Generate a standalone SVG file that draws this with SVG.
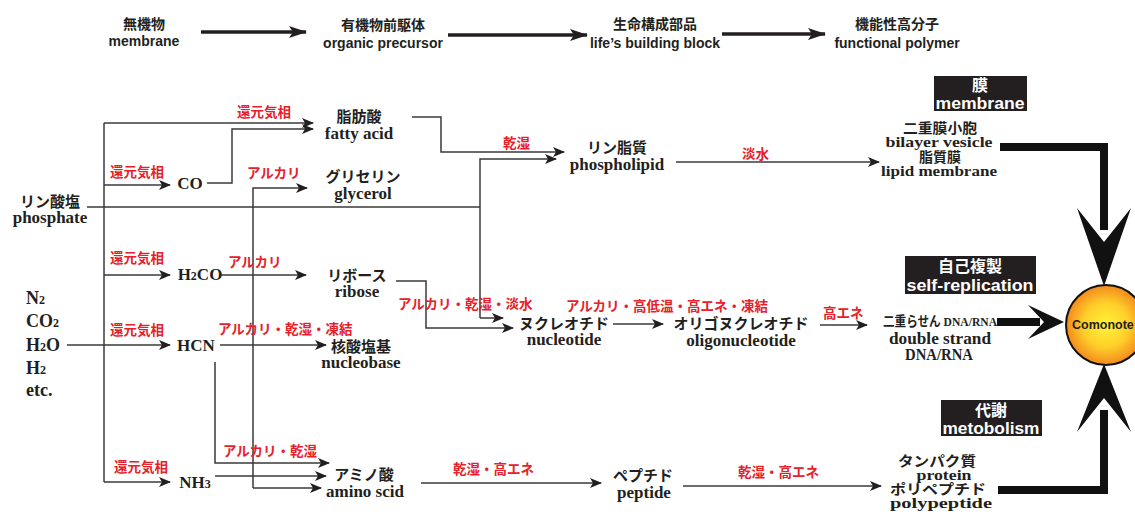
<svg xmlns="http://www.w3.org/2000/svg" width="1135" height="515" viewBox="0 0 1135 515">
<defs>
<style>
.hd{font-family:"Liberation Sans","Noto Sans CJK JP",sans-serif;font-weight:bold;font-size:14px;fill:#231f20;text-anchor:middle}
.nd{font-family:"Liberation Serif","Noto Sans CJK JP",serif;font-weight:bold;font-size:15px;fill:#231f20;text-anchor:middle}
.ne{font-family:"Liberation Serif","Noto Sans CJK JP",serif;font-weight:bold;font-size:17px;fill:#231f20;text-anchor:middle}
.st{font-family:"Liberation Serif","Noto Sans CJK JP",serif;font-weight:bold;font-size:14px;fill:#231f20;text-anchor:middle}
.gs{font-family:"Liberation Serif",serif;font-weight:bold;font-size:18px;fill:#231f20}
.lb{font-family:"Liberation Serif","Noto Sans CJK JP",serif;font-weight:bold;font-size:13.5px;fill:#e8202a}
.bx{font-family:"Liberation Sans","Noto Sans CJK JP",sans-serif;font-weight:bold;font-size:16px;fill:#fff;text-anchor:middle}
.ln{fill:none;stroke:#3a3a3a;stroke-width:1.5}
.hl{fill:none;stroke:#231f20;stroke-width:3.5}
.tk{fill:none;stroke:#111;stroke-width:8}
.ah{fill:#111}
.sb{font-size:12px}
</style>
<marker id="a" viewBox="0 0 12 10" refX="11" refY="5" markerWidth="12" markerHeight="10" markerUnits="userSpaceOnUse" orient="auto">
<path d="M0,0 L12,5 L0,10 L3,5 Z" fill="#231f20"/>
</marker>
<marker id="ha" viewBox="0 0 18 12" refX="17" refY="6" markerWidth="18" markerHeight="12" markerUnits="userSpaceOnUse" orient="auto">
<path d="M0,0 L18,6 L0,12 L4,6 Z" fill="#231f20"/>
</marker>
<radialGradient id="g" cx="0.5" cy="0.5" r="0.5">
<stop offset="0" stop-color="#fff23a"/>
<stop offset="0.55" stop-color="#ffd02a"/>
<stop offset="1" stop-color="#f28a1c"/>
</radialGradient>
</defs>

<g id="header">
<text class="hd" x="144" y="29">無機物</text>
<text class="hd" x="144" y="46">membrane</text>
<text class="hd" x="383" y="30">有機物前駆体</text>
<text class="hd" x="383" y="48">organic precursor</text>
<text class="hd" x="655" y="29">生命構成部品</text>
<text class="hd" x="655" y="48">life’s  building block</text>
<text class="hd" x="897" y="29">機能性高分子</text>
<text class="hd" x="897" y="48">functional polymer</text>
</g>

<g id="connectors">
<path class="hl" d="M201,32 H306" marker-end="url(#ha)"/>
<path class="hl" d="M448,35 H587" marker-end="url(#ha)"/>
<path class="hl" d="M722,34 H825" marker-end="url(#ha)"/>

<path class="ln" d="M104,123 V482"/>
<path class="ln" d="M104,123 H313" marker-end="url(#a)"/>
<path class="ln" d="M104,185 H170" marker-end="url(#a)"/>
<path class="ln" d="M104,275 H170" marker-end="url(#a)"/>
<path class="ln" d="M67,345 H170" marker-end="url(#a)"/>
<path class="ln" d="M104,482 H170" marker-end="url(#a)"/>

<path class="ln" d="M207,183 H232 V129 H313" marker-end="url(#a)"/>
<path class="ln" d="M253,488 V188 H307" marker-end="url(#a)"/>
<path class="ln" d="M253,488 H321" marker-end="url(#a)"/>
<path class="ln" d="M221,275 H306" marker-end="url(#a)"/>
<path class="ln" d="M220,345 H326" marker-end="url(#a)"/>
<path class="ln" d="M215,362 V463 H329" marker-end="url(#a)"/>
<path class="ln" d="M215,476 H326" marker-end="url(#a)"/>
<path class="ln" d="M87,207 H480"/>
<path class="ln" d="M480,318 V159 H556" marker-end="url(#a)"/>
<path class="ln" d="M480,318 H503" marker-end="url(#a)"/>
<path class="ln" d="M412,117 H441 V152 H564" marker-end="url(#a)"/>
<path class="ln" d="M396,281 H426 V328 H513" marker-end="url(#a)"/>
<path class="ln" d="M676,162 H879" marker-end="url(#a)"/>
<path class="ln" d="M613,324 H663" marker-end="url(#a)"/>
<path class="ln" d="M820,325 H867" marker-end="url(#a)"/>
<path class="ln" d="M421,483 H601" marker-end="url(#a)"/>
<path class="ln" d="M683,486 H881" marker-end="url(#a)"/>

<path class="tk" d="M1000,147 H1104 V230"/>
<path class="ah" d="M1077,208 L1104,242 L1131,208 L1104,286 Z"/>
<path class="tk" d="M998,490 H1104 V410"/>
<path class="ah" d="M1077,432 L1104,398 L1131,432 L1104,364 Z"/>
<path class="tk" d="M997,322 H1040"/>
<path class="ah" d="M1028,305 L1044,322 L1028,339 L1064,322 Z"/>
</g>

<g id="labels">
<text class="lb" x="237" y="117">還元気相</text>
<text class="lb" x="110" y="177">還元気相</text>
<text class="lb" x="110" y="263">還元気相</text>
<text class="lb" x="110" y="335">還元気相</text>
<text class="lb" x="114" y="472">還元気相</text>
<text class="lb" x="247" y="178">アルカリ</text>
<text class="lb" x="228" y="267">アルカリ</text>
<text class="lb" x="218" y="334">アルカリ・乾湿・凍結</text>
<text class="lb" x="223" y="456">アルカリ・乾湿</text>
<text class="lb" x="503" y="148">乾湿</text>
<text class="lb" x="742" y="159">淡水</text>
<text class="lb" x="398" y="309">アルカリ・乾湿・淡水</text>
<text class="lb" x="566" y="311">アルカリ・高低温・高エネ・凍結</text>
<text class="lb" x="823" y="318">高エネ</text>
<text class="lb" x="453" y="474">乾湿・高エネ</text>
<text class="lb" x="738" y="477">乾湿・高エネ</text>
</g>

<g id="n-phosphate"><text class="nd" x="50" y="207">リン酸塩</text><text class="ne" x="50" y="223">phosphate</text></g>
<g id="n-gases">
<text class="gs" x="26" y="304">N<tspan class="sb">2</tspan></text>
<text class="gs" x="26" y="327">CO<tspan class="sb">2</tspan></text>
<text class="gs" x="26" y="351">H<tspan class="sb">2</tspan>O</text>
<text class="gs" x="26" y="374">H<tspan class="sb">2</tspan></text>
<text class="gs" x="26" y="396">etc.</text>
</g>
<g id="n-co"><text class="ne" x="190" y="189">CO</text></g>
<g id="n-h2co"><text class="ne" x="200" y="280">H<tspan class="sb">2</tspan>CO</text></g>
<g id="n-hcn"><text class="ne" x="196" y="351">HCN</text></g>
<g id="n-nh3"><text class="ne" x="195" y="488">NH<tspan class="sb">3</tspan></text></g>
<g id="n-fatty"><text class="nd" x="359" y="122">脂肪酸</text><text class="ne" x="359" y="139">fatty acid</text></g>
<g id="n-glycerol"><text class="nd" x="363" y="182">グリセリン</text><text class="ne" x="363" y="199">glycerol</text></g>
<g id="n-ribose"><text class="nd" x="357" y="281">リボース</text><text class="ne" x="357" y="297">ribose</text></g>
<g id="n-nucleobase"><text class="nd" x="361" y="352">核酸塩基</text><text class="ne" x="361" y="368">nucleobase</text></g>
<g id="n-amino"><text class="nd" x="364" y="480">アミノ酸</text><text class="ne" x="365" y="497">amino scid</text></g>
<g id="n-phospholipid"><text class="nd" x="617" y="153">リン脂質</text><text class="ne" x="617" y="170">phospholipid</text></g>
<g id="n-nucleotide"><text class="nd" x="564" y="329">ヌクレオチド</text><text class="ne" x="564" y="345">nucleotide</text></g>
<g id="n-peptide"><text class="nd" x="643" y="481">ペプチド</text><text class="ne" x="644" y="498">peptide</text></g>
<g id="n-oligo"><text class="nd" x="741" y="329">オリゴヌクレオチド</text><text class="ne" x="741" y="346">oligonucleotide</text></g>
<g id="n-bilayer">
<text class="st" x="940" y="133" textLength="74" lengthAdjust="spacingAndGlyphs">二重膜小胞</text>
<text class="st" x="939" y="147" textLength="107" lengthAdjust="spacingAndGlyphs">bilayer vesicle</text>
<text class="st" x="940" y="162">脂質膜</text>
<text class="st" x="939" y="176" textLength="116" lengthAdjust="spacingAndGlyphs">lipid membrane</text>
</g>
<g id="n-dna">
<text class="st" x="883" y="326" style="text-anchor:start;font-size:13.5px" textLength="114" lengthAdjust="spacingAndGlyphs">二重らせん DNA/RNA</text>
<text class="ne" x="940" y="344" style="font-size:16px" textLength="102" lengthAdjust="spacingAndGlyphs">double strand</text>
<text class="ne" x="939" y="360" style="font-size:16px" textLength="68" lengthAdjust="spacingAndGlyphs">DNA/RNA</text>
</g>
<g id="n-protein">
<text class="st" x="937" y="466" textLength="78" lengthAdjust="spacingAndGlyphs">タンパク質</text>
<text class="st" x="944" y="480" textLength="55" lengthAdjust="spacingAndGlyphs">protein</text>
<text class="st" x="938" y="494" textLength="96" lengthAdjust="spacingAndGlyphs">ポリペプチド</text>
<text class="st" x="941" y="508" textLength="102" lengthAdjust="spacingAndGlyphs">polypeptide</text>
</g>

<g id="box-membrane"><rect x="934" y="76" width="93" height="35" fill="#231f20"/><text class="bx" x="980" y="91">膜</text><text class="bx" x="980" y="109" textLength="89" lengthAdjust="spacingAndGlyphs">membrane</text></g>
<g id="box-replication"><rect x="905" y="256" width="131" height="38" fill="#231f20"/><text class="bx" x="970" y="272">自己複製</text><text class="bx" x="970" y="291" textLength="127" lengthAdjust="spacingAndGlyphs">self-replication</text></g>
<g id="box-metabolism"><rect x="941" y="400" width="101" height="36" fill="#231f20"/><text class="bx" x="991" y="416">代謝</text><text class="bx" x="991" y="434" textLength="97" lengthAdjust="spacingAndGlyphs">metobolism</text></g>

<g id="n-comonote">
<circle cx="1106" cy="325" r="40" fill="url(#g)" stroke="#111" stroke-width="2"/>
<text x="1072" y="329" style="font-family:'Liberation Sans',sans-serif;font-weight:bold;font-size:12.5px;fill:#231f20">Comonote</text>
</g>
</svg>
